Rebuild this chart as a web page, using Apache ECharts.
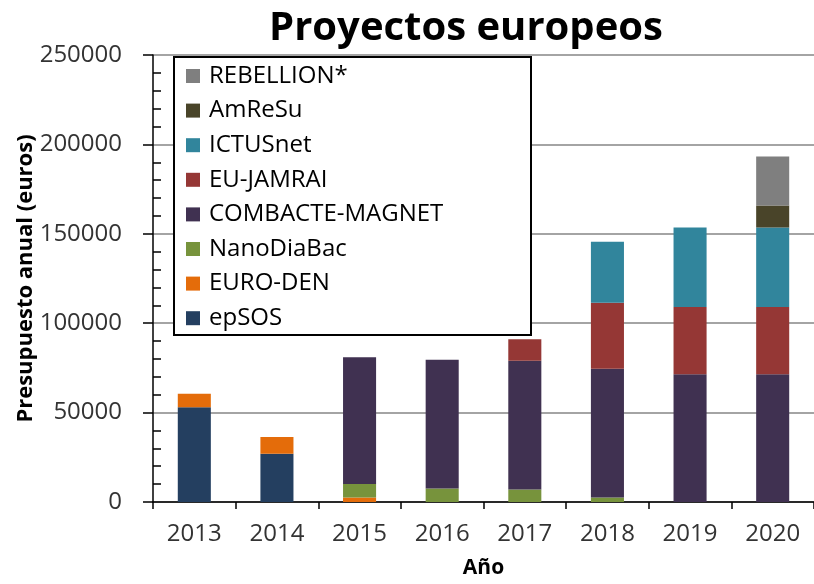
<!DOCTYPE html>
<html lang="es">
  <head>
    <meta charset="UTF-8" />
    <title>Proyectos europeos</title>
    <script src="https://cdn.jsdelivr.net/npm/echarts@6/dist/echarts.min.js"></script>
    <style>
      body { margin: 0; background: #fff; }
      #main { width: 814px; height: 584px; }
    </style>
  </head>
  <body>
    <div id="main"></div>
    <script>
      // años y presupuestos por proyecto (euros)
      const years = ["2013", "2014", "2015", "2016", "2017", "2018", "2019", "2020"];
      const epSOS = [53000, 27000, 0, 0, 0, 0, 0, 0];
      const euroDen = [7500, 9300, 2500, 0, 0, 0, 0, 0];
      const nanoDiaBac = [0, 0, 7500, 7500, 7000, 2500, 0, 0];
      const combacte = [0, 0, 71000, 72000, 72000, 72000, 71500, 71500];
      const euJamrai = [0, 0, 0, 0, 12000, 37000, 37500, 37500];
      const ictusNet = [0, 0, 0, 0, 0, 34000, 44500, 44500];
      const amReSu = [0, 0, 0, 0, 0, 0, 0, 12300];
      const rebellion = [0, 0, 0, 0, 0, 0, 0, 27400];

      const names = ["epSOS", "EURO-DEN", "NanoDiaBac", "COMBACTE-MAGNET", "EU-JAMRAI", "ICTUSnet", "AmReSu", "REBELLION*"];
      const values = [epSOS, euroDen, nanoDiaBac, combacte, euJamrai, ictusNet, amReSu, rebellion];
      const colors = ["#243F60", "#E46C0A", "#77933C", "#403151", "#953735", "#31859C", "#494429", "#7F7F7F"];

      const font = "'Open Sans', sans-serif";
      const chart = echarts.init(document.getElementById("main"));

      const series = names.map((n, i) => ({
        name: n,
        type: "bar",
        stack: "total",
        barWidth: "40%",
        data: values[i],
        itemStyle: { color: colors[i] },
      }));

      chart.setOption({
        animation: false,
        textStyle: { fontFamily: font },
        title: {
          text: "Proyectos europeos",
          left: 461,
          top: 4,
          textAlign: "center",
          textStyle: { fontFamily: font, fontSize: 40, fontWeight: "bold", color: "#000" },
        },
        grid: { left: 153, right: -6, top: 55, bottom: 80.5, containLabel: false },
        graphic: [
          {
            type: "rect",
            z: 3,
            shape: { x: 174, y: 57, width: 357, height: 278 },
            style: { fill: "#fff", stroke: "#000", lineWidth: 2 },
          },
        ],
        legend: {
          orient: "vertical",
          left: 186,
          top: 64,
          padding: 0,
          z: 5,
          icon: "rect",
          itemWidth: 14,
          itemHeight: 14,
          itemGap: 10.6,
          data: names.slice().reverse(),
          textStyle: { fontFamily: font, fontSize: 24, lineHeight: 24, color: "#000", padding: [0, 0, 0, 4] },
        },
        xAxis: {
          type: "category",
          data: years,
          name: "Año",
          nameLocation: "middle",
          nameGap: 56,
          nameTextStyle: { fontFamily: font, fontSize: 21, fontWeight: "bold", color: "#000" },
          axisLine: { lineStyle: { color: "#000", width: 1.5 } },
          axisTick: { show: true, length: 7, lineStyle: { color: "#000", width: 1.5 } },
          axisLabel: { fontFamily: font, fontSize: 24, color: "#333", margin: 20 },
        },
        yAxis: {
          type: "value",
          min: 0,
          max: 250000,
          interval: 50000,
          name: "Presupuesto anual (euros)",
          nameLocation: "middle",
          nameGap: 116,
          nameMoveOverlap: false,
          nameTextStyle: { fontFamily: font, fontSize: 22, fontWeight: "bold", color: "#000" },
          axisLine: { show: true, lineStyle: { color: "#000", width: 1.5 } },
          axisTick: { show: true, length: 10, lineStyle: { color: "#000", width: 1.5 } },
          minorTick: { show: true, splitNumber: 5, length: -8, lineStyle: { color: "#000", width: 1.5 } },
          axisLabel: { fontFamily: font, fontSize: 24, color: "#333", margin: 31, formatter: (v) => String(v) },
          splitLine: { lineStyle: { color: "#868686", width: 1.5 } },
        },
        series: series,
      });
    </script>
  </body>
</html>
